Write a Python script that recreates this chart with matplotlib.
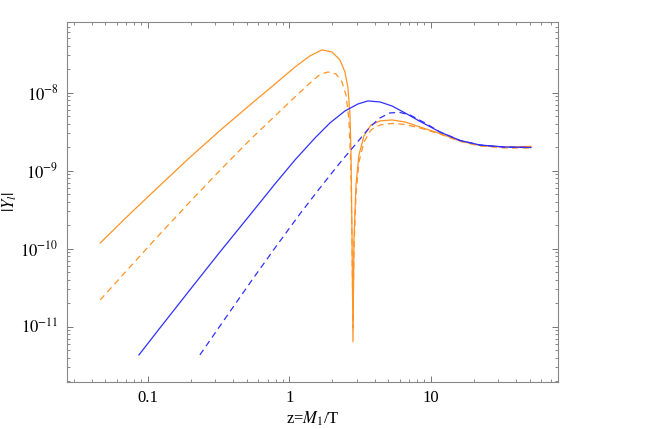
import matplotlib
matplotlib.use('Agg')
import matplotlib.pyplot as plt
from matplotlib.ticker import LogLocator, FixedLocator, FixedFormatter, NullFormatter

plt.rcParams['font.family'] = ['Liberation Serif', 'DejaVu Serif']
plt.rcParams['mathtext.fontset'] = 'stix'

# orange, solid
z_or = [0.046, 0.0746, 0.1216, 0.198, 0.323, 0.526, 0.790, 1.094, 1.396, 1.643, 1.70,
        2.0, 2.275, 2.467, 2.591, 2.677, 2.72, 2.765, 2.811, 2.856, 2.951, 3.099, 3.361,
        3.767, 4.362, 5.302, 6.551, 8.36, 11.58, 16.03, 22.2, 33.3, 50.9]
y_or = [1.18e-10, 2.79e-10, 6.46e-10, 1.48e-9, 3.27e-9, 6.95e-9, 1.29e-8, 2.13e-8, 2.96e-8,
        3.43e-8, 3.53e-8, 3.32e-8, 2.62e-8, 1.84e-8, 1.15e-8, 5.18e-9, 1.84e-9, 1.74e-10,
        6.4e-12, 1.29e-10, 6.56e-10, 1.59e-9, 2.79e-9, 3.85e-9, 4.34e-9, 4.47e-9, 4.21e-9,
        3.63e-9, 3.0e-9, 2.40e-9, 2.10e-9, 2.01e-9, 2.05e-9]

# orange, dashed
z_or_d = [0.046, 0.0746, 0.1216, 0.198, 0.323, 0.526, 0.790, 1.094, 1.396, 1.643, 1.871,
          2.131, 2.35, 2.508, 2.633, 2.72, 2.765, 2.811, 2.856, 2.951, 3.099, 3.361, 3.767,
          4.362, 5.302, 6.551, 8.36, 11.58, 16.03, 22.2, 33.3, 50.9]
y_or_d = [2.20e-11, 5.81e-11, 1.54e-10, 3.97e-10, 1.01e-9, 2.48e-9, 5.02e-9, 8.81e-9, 1.33e-8,
          1.71e-8, 1.84e-8, 1.74e-8, 1.37e-8, 9.35e-9, 4.47e-9, 1.02e-9, 1.29e-10, 9.6e-12,
          9.6e-11, 4.86e-10, 1.29e-9, 2.33e-9, 3.33e-9, 3.85e-9, 4.03e-9, 3.91e-9, 3.52e-9,
          2.95e-9, 2.37e-9, 2.07e-9, 1.95e-9, 1.95e-9]

# blue, solid
z_bl = [0.0864, 0.1216, 0.198, 0.323, 0.526, 0.790, 1.094, 1.514, 1.933, 2.467, 3.049,
        3.587, 4.362, 5.302, 6.551, 8.36, 11.58, 16.03, 22.2, 33.3, 50.9]
y_bl = [4.34e-12, 9.62e-12, 2.96e-11, 9.08e-11, 2.70e-10, 6.75e-10, 1.37e-9, 2.62e-9, 4.09e-9,
        5.82e-9, 7.16e-9, 7.83e-9, 7.60e-9, 6.75e-9, 5.50e-9, 4.28e-9, 3.13e-9, 2.44e-9,
        2.13e-9, 2.01e-9, 1.98e-9]

# blue, dashed
z_bl_d = [0.233, 0.350, 0.526, 0.790, 1.186, 1.643, 2.275, 2.904, 3.707, 4.362, 5.13, 6.04,
          7.10, 9.07, 11.58, 16.03, 22.2, 33.3, 50.9]
y_bl_d = [4.34e-12, 1.26e-11, 3.63e-11, 1.02e-10, 2.79e-10, 6.00e-10, 1.26e-9, 2.13e-9,
          3.63e-9, 4.74e-9, 5.50e-9, 5.57e-9, 5.18e-9, 4.09e-9, 3.13e-9, 2.44e-9, 2.13e-9,
          2.0e-9, 1.98e-9]

orange = '#ff9326'
blue = '#3030ff'

fig = plt.figure(figsize=(6.54, 4.29), dpi=100)
ax = fig.add_axes([67/654, 1 - 382/429, (558 - 67)/654, (382 - 22)/429])

ax.plot(z_or, y_or, color=orange, lw=0.9)
ax.plot(z_or_d, y_or_d, color=orange, lw=0.9, ls=(0, (5, 3.5)))
ax.plot(z_bl, y_bl, color=blue, lw=0.9)
ax.plot(z_bl_d, y_bl_d, color=blue, lw=0.9, ls=(0, (5, 3.5)))

ax.set_xscale('log')
ax.set_yscale('log')
ax.set_xlim(0.0268, 79)
ax.set_ylim(1.95e-12, 8.05e-8)

ax.xaxis.set_major_locator(FixedLocator([0.1, 1, 10]))
ax.xaxis.set_major_formatter(FixedFormatter(['0.1', '1', '10']))
ax.xaxis.set_minor_locator(LogLocator(base=10, subs=range(2, 10), numticks=30))
ax.xaxis.set_minor_formatter(NullFormatter())
ax.yaxis.set_major_locator(FixedLocator([1e-11, 1e-10, 1e-9, 1e-8]))
ax.yaxis.set_major_formatter(FixedFormatter([r'$10^{-11}$', r'$10^{-10}$', r'$10^{-9}$', r'$10^{-8}$']))
ax.yaxis.set_minor_locator(LogLocator(base=10, subs=range(2, 10), numticks=30))
ax.yaxis.set_minor_formatter(NullFormatter())

for s in ax.spines.values():
    s.set_color('#888888')
    s.set_linewidth(0.8)
ax.tick_params(which='both', direction='in', top=True, right=True, color='#777777',
               labelsize=12, pad=6)
ax.tick_params(which='major', length=4, width=0.7)
ax.tick_params(which='minor', length=2, width=0.6)

ax.set_xlabel(r'z=$M_1$/T', fontsize=12, labelpad=2)
ax.set_ylabel(r'$|Y_l|$', fontsize=12)
ax.yaxis.set_label_coords(-0.098, 0.5)

fig.savefig('out.png', dpi=100)
